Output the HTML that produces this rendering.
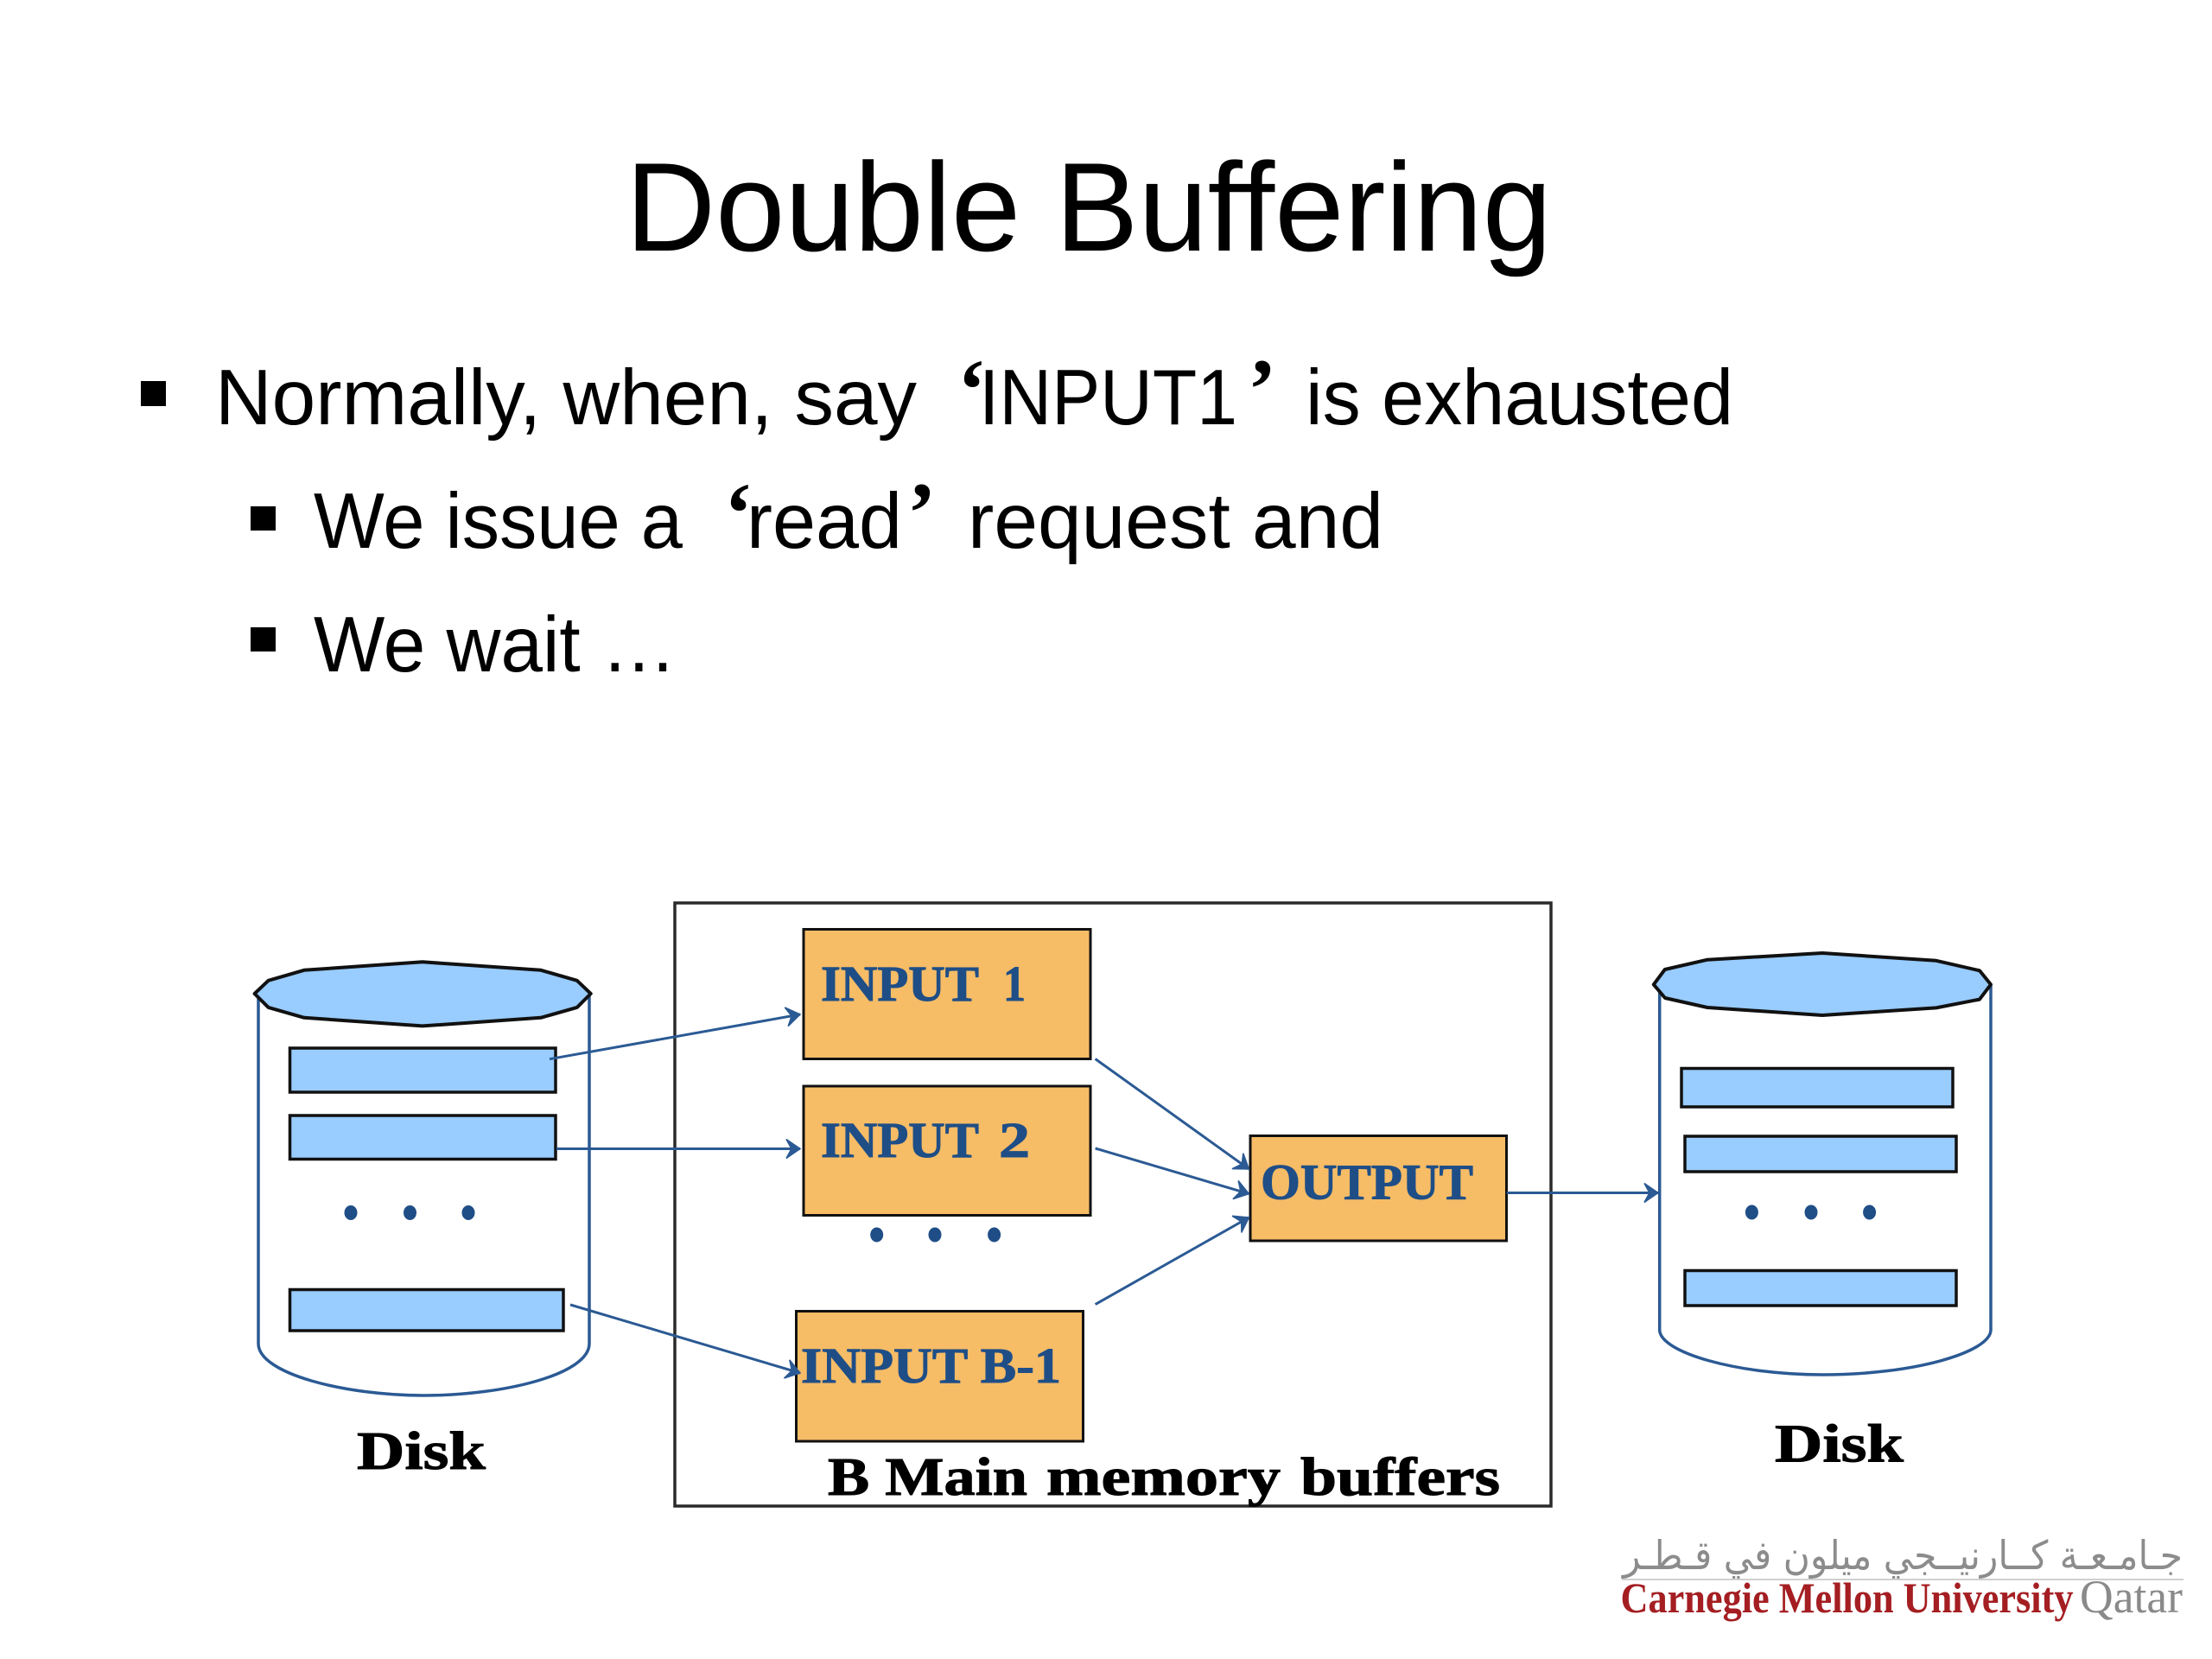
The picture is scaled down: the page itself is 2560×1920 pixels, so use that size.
<!DOCTYPE html>
<html lang="en">
<head>
<meta charset="utf-8">
<title>Double Buffering</title>
<style>
html,body{margin:0;padding:0;background:#fff;width:2560px;height:1920px;overflow:hidden}
svg{display:block}
.cal{font-family:"Liberation Sans",sans-serif;fill:#000}
.ser{font-family:"Liberation Serif",serif;font-weight:bold;stroke-width:1}
.blue{fill:#1f4e87;stroke:#1f4e87}
.blk{fill:#000;stroke:#000}
.buf{fill:#99ccff;stroke:#111;stroke-width:3.5}
.org{fill:#f6bc66;stroke:#111;stroke-width:3}
.cyl{fill:#fff;stroke:#2b5a94;stroke-width:3.5}
.arr{fill:none;stroke:#2b5a94;stroke-width:3;marker-end:url(#h)}
.dot{fill:#1f4e87}
.q{font-family:"Liberation Serif",serif;fill:#000;font-weight:bold}
</style>
</head>
<body>
<svg width="2560" height="1920" viewBox="0 0 2560 1920" xmlns="http://www.w3.org/2000/svg">
<defs>
<marker id="h" markerUnits="userSpaceOnUse" markerWidth="40" markerHeight="40" refX="20" refY="20" orient="auto" overflow="visible">
<path d="M4 9 L20 20 L4 31 L10 20 Z" fill="#2b5a94" stroke="#2b5a94" stroke-width="1.5"/>
</marker>
</defs>
<rect width="2560" height="1920" fill="#fff"/>

<!-- Title -->
<text class="cal" x="724" y="290" font-size="146" textLength="1072" lengthAdjust="spacingAndGlyphs">Double Buffering</text>

<!-- Bullets -->
<rect x="163" y="441" width="29" height="29" fill="#000"/>
<text class="cal" x="249" y="491" font-size="91" textLength="812" lengthAdjust="spacingAndGlyphs">Normally, when, say</text>
<text class="q" x="1108" y="484" font-size="100">‘</text>
<text class="cal" x="1133" y="491" font-size="91" textLength="299" lengthAdjust="spacingAndGlyphs">INPUT1</text>
<text class="q" x="1444" y="484" font-size="100">’</text>
<text class="cal" x="1511" y="491" font-size="91" textLength="495" lengthAdjust="spacingAndGlyphs">is exhausted</text>

<rect x="290" y="586" width="29" height="28" fill="#000"/>
<text class="cal" x="363" y="634" font-size="91" textLength="427" lengthAdjust="spacingAndGlyphs">We issue a</text>
<text class="q" x="838" y="627" font-size="100">‘</text>
<text class="cal" x="864" y="634" font-size="91" textLength="180" lengthAdjust="spacingAndGlyphs">read</text>
<text class="q" x="1050" y="627" font-size="100">’</text>
<text class="cal" x="1120" y="634" font-size="91" textLength="481" lengthAdjust="spacingAndGlyphs">request and</text>

<rect x="290" y="726" width="29" height="28" fill="#000"/>
<text class="cal" x="363" y="777" font-size="91" textLength="420" lengthAdjust="spacingAndGlyphs">We wait …</text>

<!-- Memory box -->
<rect x="781" y="1045" width="1014" height="698" fill="#fff" stroke="#2a2a2a" stroke-width="3.5"/>

<!-- Left disk -->
<path class="cyl" d="M299 1150 V1555 C299 1590 400 1615 490 1615 C585 1615 682 1590 682 1555 V1150"/>
<polygon points="294.6,1150 310.6,1134.8 352,1122.8 489,1113.3 626,1122.8 667.8,1134.8 683.7,1150 667.8,1165.9 626,1177.8 489,1187.4 352,1177.8 310.6,1165.9" fill="#99ccff" stroke="#111" stroke-width="4" stroke-linejoin="round"/>
<rect class="buf" x="335.5" y="1213" width="307.5" height="51"/>
<rect class="buf" x="335.5" y="1291" width="307.5" height="50.5"/>
<rect class="buf" x="335.5" y="1492.5" width="316.5" height="47.5"/>
<ellipse class="dot" cx="406" cy="1403.5" rx="7.5" ry="8.5"/>
<ellipse class="dot" cx="474.5" cy="1403.5" rx="7.5" ry="8.5"/>
<ellipse class="dot" cx="542" cy="1403.5" rx="7.5" ry="8.5"/>
<text class="ser blk" x="413" y="1700" font-size="62" textLength="149" lengthAdjust="spacingAndGlyphs">Disk</text>

<!-- Right disk -->
<path class="cyl" d="M1920.7 1139 V1539 C1920.7 1565 2010 1591 2109 1591 C2215 1591 2304 1565 2304 1539 V1139"/>
<polygon points="1913.8,1139.4 1926.8,1122 1976,1110.7 2109,1103 2240.8,1111.8 2291,1123.3 2304,1139.4 2291,1156.6 2240.8,1166.4 2109,1175 1976,1166 1927,1155" fill="#99ccff" stroke="#111" stroke-width="4" stroke-linejoin="round"/>
<rect class="buf" x="1946" y="1236.5" width="314" height="44.5"/>
<rect class="buf" x="1950" y="1315" width="314" height="41"/>
<rect class="buf" x="1950" y="1470.5" width="314" height="40.5"/>
<ellipse class="dot" cx="2027.4" cy="1403" rx="7.5" ry="8.5"/>
<ellipse class="dot" cx="2096" cy="1403" rx="7.5" ry="8.5"/>
<ellipse class="dot" cx="2163.6" cy="1403" rx="7.5" ry="8.5"/>
<text class="ser blk" x="2054" y="1691.5" font-size="62" textLength="149" lengthAdjust="spacingAndGlyphs">Disk</text>

<!-- Buffers -->
<rect class="org" x="930" y="1075.5" width="332" height="150"/>
<rect class="org" x="930" y="1257" width="332" height="149.5"/>
<rect class="org" x="921.5" y="1517.5" width="332" height="150.5"/>
<rect class="org" x="1447" y="1314.5" width="296.5" height="121.5"/>

<text class="ser blue" x="950" y="1158" font-size="58" textLength="183" lengthAdjust="spacingAndGlyphs">INPUT</text>
<text class="ser blue" x="1161" y="1158" font-size="58" textLength="26" lengthAdjust="spacingAndGlyphs">1</text>
<text class="ser blue" x="950" y="1339" font-size="58" textLength="183" lengthAdjust="spacingAndGlyphs">INPUT</text>
<text class="ser blue" x="1156" y="1339" font-size="58" textLength="36" lengthAdjust="spacingAndGlyphs">2</text>
<text class="ser blue" x="927" y="1600" font-size="58" textLength="301" lengthAdjust="spacingAndGlyphs">INPUT B-1</text>
<text class="ser blue" x="1459" y="1387.5" font-size="58" textLength="246" lengthAdjust="spacingAndGlyphs">OUTPUT</text>

<!-- Dots between buffers -->
<ellipse class="dot" cx="1014.7" cy="1429" rx="7.5" ry="8.5"/>
<ellipse class="dot" cx="1082" cy="1429" rx="7.5" ry="8.5"/>
<ellipse class="dot" cx="1150.6" cy="1429" rx="7.5" ry="8.5"/>

<text class="ser blk" x="958" y="1730" font-size="62" textLength="231" lengthAdjust="spacingAndGlyphs">B Main</text>
<text class="ser blk" x="1211" y="1730" font-size="62" textLength="271" lengthAdjust="spacingAndGlyphs">memory</text>
<text class="ser blk" x="1505" y="1730" font-size="62" textLength="231" lengthAdjust="spacingAndGlyphs">buffers</text>

<!-- Arrows -->
<line class="arr" x1="636" y1="1225.7" x2="926" y2="1174"/>
<line class="arr" x1="644" y1="1329.5" x2="926" y2="1329.5"/>
<line class="arr" x1="660" y1="1510" x2="926" y2="1589"/>
<line class="arr" x1="1267.6" y1="1225.5" x2="1445.4" y2="1353"/>
<line class="arr" x1="1267.6" y1="1329" x2="1445.4" y2="1381.6"/>
<line class="arr" x1="1267.6" y1="1509.6" x2="1445.4" y2="1409"/>
<line class="arr" x1="1743.8" y1="1380.5" x2="1919" y2="1380.5"/>

<!-- Logo -->
<text x="2526" y="1816" font-size="46" fill="#8c8c8c" text-anchor="start" direction="rtl" textLength="648" lengthAdjust="spacingAndGlyphs" font-family="'DejaVu Sans',sans-serif">جـامـعـة كــارنيــجي ميلون في قـطـر</text>
<rect x="1877" y="1827" width="650" height="2" fill="#d0d0d0"/>
<text x="1875.5" y="1866" font-family="'Liberation Serif',serif" font-size="50" font-weight="bold" fill="#a41e22" textLength="524" lengthAdjust="spacingAndGlyphs">Carnegie Mellon University</text>
<text x="2407" y="1866" font-family="'Liberation Serif',serif" font-size="54" fill="#8a8a8a" textLength="119" lengthAdjust="spacingAndGlyphs">Qatar</text>
</svg>
</body>
</html>
